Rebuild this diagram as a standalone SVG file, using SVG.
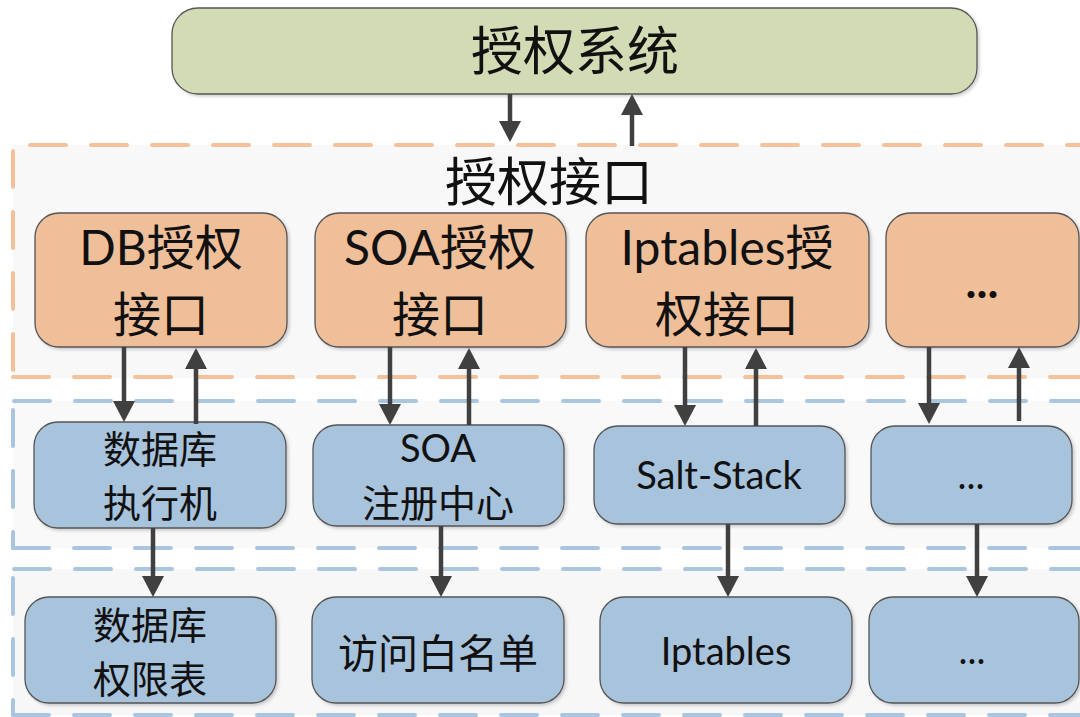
<svg xmlns="http://www.w3.org/2000/svg" width="1080" height="717" viewBox="0 0 1080 717">
<defs>
<style>
.t{font-family:Lato,"Noto Sans CJK SC",sans-serif;fill:#111;text-anchor:middle}
.green{fill:#d3dbb5;stroke:#555;stroke-width:1.3}
.orange{fill:#efbf99;stroke:#555;stroke-width:1.3}
.blue{fill:#a8c3dc;stroke:#555;stroke-width:1.3}
.od{stroke:#f4c19b;stroke-width:4;stroke-dasharray:36 25;stroke-linecap:round;fill:none}
.bd{stroke:#a9c5df;stroke-width:4;stroke-dasharray:36 25;stroke-linecap:round;fill:none}
.ar{stroke:#404040;stroke-width:4.5;fill:none;marker-end:url(#ah)}
</style>
<marker id="ah" markerUnits="userSpaceOnUse" markerWidth="22" markerHeight="22" refX="10" refY="11" orient="auto">
<path d="M0,0 L21,11 L0,22 Z" fill="#404040"/>
</marker>
<filter id="sh" x="-10%" y="-10%" width="130%" height="130%">
<feDropShadow dx="2" dy="2" stdDeviation="1.5" flood-color="#000" flood-opacity="0.18"/>
</filter>
</defs>
<rect width="1080" height="717" fill="#fff"/>
<g id="regions">
<rect x="13" y="145" width="1067" height="233" fill="#f8f8f8"/>
<rect x="13" y="401" width="1067" height="147" fill="#f9f9f9"/>
<rect x="13" y="569" width="1067" height="146" fill="#f7f7f8"/>
<line class="od" x1="30" y1="145" x2="1080" y2="145"/>
<line class="od" x1="13" y1="151" x2="13" y2="372"/>
<line class="od" x1="13" y1="377" x2="1080" y2="377"/>
<line class="bd" x1="14" y1="401" x2="1080" y2="401"/>
<line class="bd" x1="13" y1="410" x2="13" y2="548"/>
<line class="bd" x1="13" y1="548" x2="1080" y2="548"/>
<line class="bd" x1="14" y1="569" x2="1080" y2="569"/>
<line class="bd" x1="13" y1="578" x2="13" y2="715"/>
<line class="bd" x1="13" y1="715" x2="1080" y2="715"/>
</g>
<g id="auth-system">
<rect class="green" filter="url(#sh)" x="172" y="8" width="805" height="86" rx="26"/>
<text class="t" x="575" y="70" font-size="52">授权系统</text>
</g>
<g id="auth-interface-label">
<text class="t" x="549" y="201" font-size="52">授权接口</text>
</g>
<g id="db-auth">
<rect class="orange" filter="url(#sh)" x="35" y="213" width="252" height="134" rx="24"/>
<text class="t" x="161" y="265" font-size="48">DB授权</text>
<text class="t" x="161" y="332" font-size="48">接口</text>
</g>
<g id="soa-auth">
<rect class="orange" filter="url(#sh)" x="315" y="213" width="251" height="134" rx="24"/>
<text class="t" x="440" y="265" font-size="48">SOA授权</text>
<text class="t" x="440" y="332" font-size="48">接口</text>
</g>
<g id="iptables-auth">
<rect class="orange" filter="url(#sh)" x="586" y="213" width="283" height="134" rx="24"/>
<text class="t" x="727" y="265" font-size="48">Iptables授</text>
<text class="t" x="727" y="332" font-size="48">权接口</text>
</g>
<g id="more-auth">
<rect class="orange" filter="url(#sh)" x="886" y="213" width="193" height="134" rx="24"/>
<text class="t" x="982" y="298" font-size="46" font-weight="bold">...</text>
</g>
<g id="db-executor">
<rect class="blue" filter="url(#sh)" x="34" y="422" width="252" height="106" rx="24"/>
<text class="t" x="160" y="463" font-size="38">数据库</text>
<text class="t" x="160" y="517" font-size="38">执行机</text>
</g>
<g id="soa-registry">
<rect class="blue" filter="url(#sh)" x="313" y="425" width="251" height="101" rx="24"/>
<text class="t" x="438" y="462" font-size="38">SOA</text>
<text class="t" x="438" y="517" font-size="38">注册中心</text>
</g>
<g id="salt-stack">
<rect class="blue" filter="url(#sh)" x="594" y="426" width="251" height="98" rx="24"/>
<text class="t" x="719" y="489" font-size="38">Salt-Stack</text>
</g>
<g id="more-exec">
<rect class="blue" filter="url(#sh)" x="871" y="426" width="201" height="98" rx="24"/>
<text class="t" x="971" y="489" font-size="38">...</text>
</g>
<g id="db-permission-table">
<rect class="blue" filter="url(#sh)" x="25" y="597" width="251" height="106" rx="24"/>
<text class="t" x="150" y="639" font-size="38">数据库</text>
<text class="t" x="150" y="693" font-size="38">权限表</text>
</g>
<g id="whitelist">
<rect class="blue" filter="url(#sh)" x="312" y="597" width="252" height="106" rx="24"/>
<text class="t" x="438" y="668" font-size="40">访问白名单</text>
</g>
<g id="iptables">
<rect class="blue" filter="url(#sh)" x="600" y="597" width="252" height="106" rx="24"/>
<text class="t" x="726" y="665" font-size="38">Iptables</text>
</g>
<g id="more-target">
<rect class="blue" filter="url(#sh)" x="869" y="597" width="210" height="106" rx="24"/>
<text class="t" x="972" y="664" font-size="38">...</text>
</g>
<g id="connectors">
<line class="ar" x1="510" y1="94" x2="510" y2="131"/>
<line class="ar" x1="632" y1="146" x2="632" y2="105"/>
<line class="ar" x1="124" y1="347" x2="124" y2="411"/>
<line class="ar" x1="196" y1="424" x2="196" y2="359"/>
<line class="ar" x1="390" y1="347" x2="390" y2="414"/>
<line class="ar" x1="469" y1="425" x2="469" y2="359"/>
<line class="ar" x1="685" y1="347" x2="685" y2="415"/>
<line class="ar" x1="756" y1="426" x2="756" y2="359"/>
<line class="ar" x1="929" y1="347" x2="929" y2="413"/>
<line class="ar" x1="1019" y1="421" x2="1019" y2="358"/>
<line class="ar" x1="153" y1="528" x2="153" y2="586"/>
<line class="ar" x1="441" y1="526" x2="441" y2="586"/>
<line class="ar" x1="728" y1="524" x2="728" y2="586"/>
<line class="ar" x1="977" y1="524" x2="977" y2="586"/>
</g>
</svg>
